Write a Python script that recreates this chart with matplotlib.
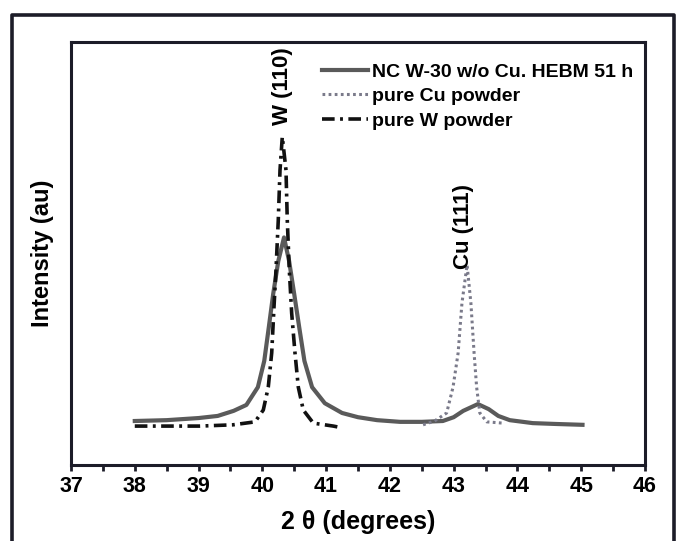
import matplotlib
matplotlib.use("Agg")
import matplotlib.pyplot as plt
from matplotlib import font_manager
from matplotlib.lines import Line2D
from matplotlib.ticker import MultipleLocator

names = {f.name for f in font_manager.fontManager.ttflist}
fam = "Liberation Sans Narrow" if "Liberation Sans Narrow" in names else "Liberation Sans"
plt.rcParams['font.family'] = [fam, 'DejaVu Sans']

# NC W-30 w/o Cu, HEBM 51 h
nc_x = [38.0, 38.5, 39.0, 39.3, 39.55, 39.75, 39.93, 40.03, 40.10, 40.17, 40.25, 40.34,
        40.42, 40.50, 40.58, 40.66, 40.78, 40.98, 41.25, 41.5, 41.8, 42.16, 42.5, 42.83,
        43.0, 43.15, 43.38, 43.55, 43.7, 43.88, 44.24, 44.6, 45.02]
nc_y = [10.4, 10.6, 11.1, 11.6, 12.8, 14.2, 18.4, 24.6, 32.4, 40.4, 48.2, 53.8,
        48.2, 40.4, 32.4, 24.6, 18.4, 14.6, 12.3, 11.3, 10.6, 10.2, 10.2, 10.4,
        11.3, 12.8, 14.4, 13.2, 11.6, 10.6, 9.9, 9.7, 9.5]
# pure Cu powder
cu_x = [42.52, 42.7, 42.89, 42.99, 43.07, 43.13, 43.21, 43.27, 43.32, 43.36, 43.41, 43.52, 43.77]
cu_y = [9.5, 10.4, 12.3, 18.4, 26.5, 38.3, 47.3, 38.3, 26.5, 18.4, 12.3, 10.2, 9.9]
# pure W powder
w_x = [38.0, 38.5, 39.02, 39.54, 39.885, 40.015, 40.093, 40.147, 40.183, 40.214, 40.25, 40.277,
       40.313, 40.371, 40.391, 40.423, 40.46, 40.512, 40.564, 40.642, 40.799, 41.113, 41.18]
w_y = [9.2, 9.2, 9.2, 9.5, 10.2, 13.0, 18.4, 26.5, 37.4, 46.1, 57.9, 69.7,
       77.6, 69.7, 57.9, 46.1, 35.9, 26.5, 18.4, 13.0, 9.9, 9.2, 9.0]

labels = ["NC W-30 w/o Cu. HEBM 51 h", "pure Cu powder", "pure W powder"]
x_ticks = [37, 38, 39, 40, 41, 42, 43, 44, 45, 46]

W, H = 683, 541
fig = plt.figure(figsize=(W / 100, H / 100), dpi=100)
ax = fig.add_axes([71 / W, 1 - 465 / H, (645 - 71) / W, (465 - 42) / H])

spine_c = "#1c1c28"
ax.plot(nc_x, nc_y, color="#5a5a5a", lw=3.0, label=labels[0])
ax.plot(cu_x, cu_y, color="#7a7a8a", lw=2.2, ls=(0, (0.9, 1.1)), label=labels[1])
ax.plot(w_x, w_y, color="#111111", lw=2.6, ls=(0, (3.5, 1.5, 0.8, 1.5)), label=labels[2])

ax.set_xlim(37, 46)
ax.set_ylim(0, 100)
ax.set_xticks(x_ticks)
ax.xaxis.set_minor_locator(MultipleLocator(0.5))
ax.set_yticks([])
ax.tick_params(axis='x', which='major', direction='out', length=4, width=2, color=spine_c,
               labelsize=15.5, pad=4)
ax.tick_params(axis='x', which='minor', direction='out', length=4, width=2, color=spine_c)
for lab in ax.get_xticklabels():
    lab.set_fontweight('bold')
for s in ax.spines.values():
    s.set_linewidth(2.2)
    s.set_color(spine_c)

ax.set_xlabel("2 θ (degrees)", fontsize=18, fontweight='bold', labelpad=9)
ax.set_ylabel("Intensity (au)", fontsize=17, fontweight='bold', labelpad=12)

ax.text(40.31, 89.5, "W (110)", rotation=90, ha='center', va='center', fontsize=16, fontweight='bold')
ax.text(43.16, 56.5, "Cu (111)", rotation=90, ha='center', va='center', fontsize=16, fontweight='bold')

leg = ax.legend(loc='upper left', bbox_to_anchor=((322 - 71) / 574, 0.950), frameon=False,
                borderpad=0, borderaxespad=0, handlelength=2.35, handletextpad=0.2,
                labelspacing=0.35, prop={'weight': 'bold', 'size': 14})

# outer scan frame
fig.add_artist(Line2D([12 / W, 12 / W, 674 / W, 674 / W], [0, 1 - 15 / H, 1 - 15 / H, 0],
                      transform=fig.transFigure, color=spine_c, lw=2.6))

fig.savefig("out.png", dpi=100)
